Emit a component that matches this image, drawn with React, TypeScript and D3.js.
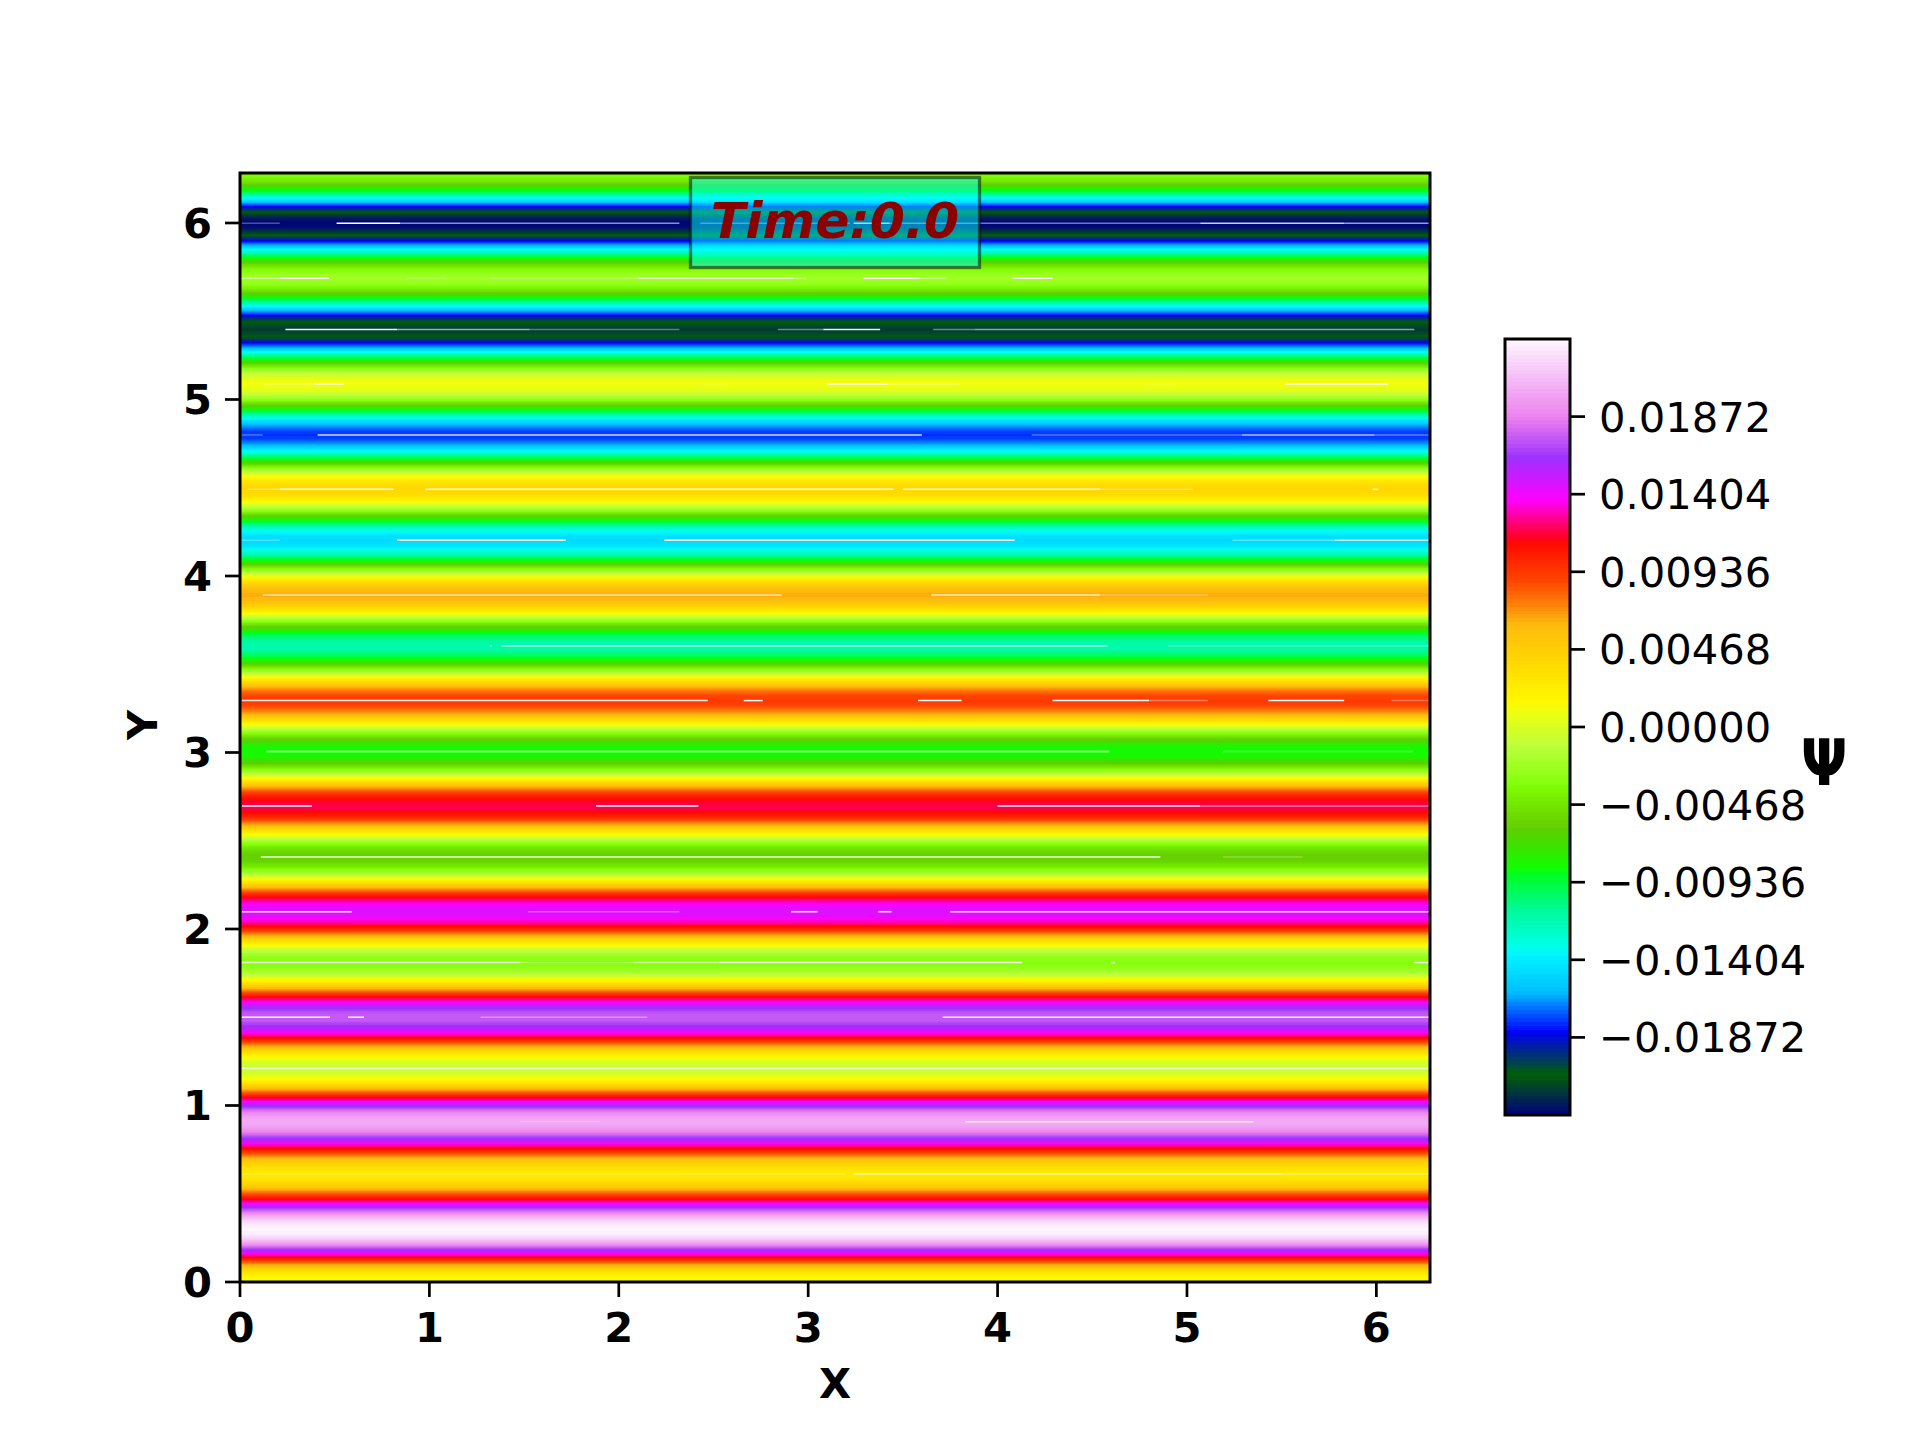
import React from "react";
import * as d3 from "d3";

const WIDTH = 1920;
const HEIGHT = 1440;
const TAU = 2 * Math.PI;

// Y positions of the alternating ridges and troughs of psi
const ridgeY = [0, 0.295, 0.612, 0.908, 1.21, 1.5, 1.81, 2.098, 2.408, 2.697, 3.005, 3.294, 3.605, 3.892, 4.202, 4.491, 4.799, 5.088, 5.397, 5.687, 5.998, TAU];
const ridgePsi = [0.0012, 0.0232, 0.0027, 0.0203, -0.0006, 0.0175, -0.0033, 0.0146, -0.006, 0.0119, -0.0084, 0.0092, -0.0115, 0.0064, -0.0148, 0.004, -0.0178, 0.001, -0.0218, -0.0023, -0.0233, -0.0035];

const psiMin = -0.0234;
const psiMax = 0.0234;
const levelCount = 200;

const xTicks = [0, 1, 2, 3, 4, 5, 6];
const yTicks = [0, 1, 2, 3, 4, 5, 6];
const barTicks = [-0.01872, -0.01404, -0.00936, -0.00468, 0, 0.00468, 0.00936, 0.01404, 0.01872];
const barTickLabels = ["\u22120.01872", "\u22120.01404", "\u22120.00936", "\u22120.00468", "0.00000", "0.00468", "0.00936", "0.01404", "0.01872"];

// gist_ncar colour stops
const redStops: [number, number][] = [[0, 0], [0.3098, 0], [0.3725, 0.3993], [0.4235, 0.5003], [0.5333, 1], [0.7922, 1], [0.8471, 0.6218], [0.898, 0.9235], [1, 0.9961]];
const greenStops: [number, number][] = [[0, 0], [0.051, 0.3722], [0.1059, 0], [0.1569, 0.7202], [0.1608, 0.7537], [0.1647, 0.7752], [0.2157, 1], [0.2588, 0.9804], [0.2706, 0.9804], [0.3176, 1], [0.3686, 0.8081], [0.4275, 1], [0.5216, 1], [0.6314, 0.7292], [0.6863, 0.2796], [0.7451, 0], [0.7922, 0], [0.8431, 0.1753], [0.898, 0.5], [1, 0.9725]];
const blueStops: [number, number][] = [[0, 0.502], [0.051, 0.0222], [0.1098, 1], [0.2039, 1], [0.2627, 0.6145], [0.3216, 0], [0.4157, 0], [0.4745, 0.2342], [0.5333, 0], [0.5804, 0], [0.6314, 0.0549], [0.6902, 0], [0.7373, 0], [0.7922, 1], [0.8431, 1], [0.898, 0.9341], [1, 0.9961]];

// White slivers where the filled contours leave a gap on a ridge: [x0, x1, strength], one list per ridge (index into ridgeY)
const sliverLists: [number, [number, number, number][]][] = [
  [2, [[0.01, 2.3, 0.2], [2.3, 3.2, 0.25], [3.24, 5.5, 0.65], [5.5, 6.28, 0.4]]],
  [3, [[1.48, 1.9, 0.15], [3.83, 5.35, 0.8]]],
  [4, [[0.01, 6.28, 0.75]]],
  [5, [[0.01, 0.475, 1], [0.57, 0.655, 1], [1.27, 2.15, 0.35], [3.71, 6.28, 0.9]]],
  [6, [[0.01, 1.48, 0.85], [1.48, 2.08, 0.3], [2.08, 2.53, 0.6], [2.53, 4.13, 0.9], [4.6, 4.62, 0.7], [6.2, 6.28, 0.9]]],
  [7, [[0.01, 0.59, 1], [1.52, 2.32, 0.3], [2.91, 3.05, 1], [3.37, 3.44, 1], [3.75, 6.28, 0.95]]],
  [8, [[0.11, 4.86, 0.85], [5.19, 5.61, 0.25]]],
  [9, [[0.01, 0.38, 1], [1.88, 2.42, 1], [4.0, 5.07, 0.95], [5.07, 6.28, 0.5]]],
  [10, [[0.14, 4.59, 0.9], [5.19, 6.19, 0.35]]],
  [11, [[0.01, 2.47, 0.9], [2.66, 2.76, 1], [3.58, 3.81, 1], [4.29, 4.8, 1], [4.8, 5.11, 0.35], [5.43, 5.83, 1], [6.08, 6.28, 0.3]]],
  [12, [[1.32, 1.33, 1], [1.38, 4.58, 0.9], [4.9, 6.28, 0.4]]],
  [13, [[0.12, 2.86, 0.65], [3.65, 4.54, 0.75], [4.54, 5.11, 0.3]]],
  [14, [[0.01, 0.21, 0.3], [0.83, 1.72, 1], [2.24, 4.09, 1], [5.24, 5.78, 0.35], [5.78, 6.28, 0.8]]],
  [15, [[0.04, 0.21, 0.4], [0.21, 0.81, 1], [0.98, 3.45, 0.95], [3.5, 4.54, 0.9], [4.54, 5.03, 0.35], [5.98, 6.01, 0.9]]],
  [16, [[0.01, 0.12, 0.35], [0.41, 3.6, 0.85], [4.18, 5.29, 0.35], [5.29, 5.99, 0.7], [5.99, 6.28, 0.4]]],
  [17, [[0.12, 0.39, 0.3], [0.39, 0.55, 1], [2.43, 2.59, 0.15], [3.1, 3.42, 1], [3.42, 3.8, 0.35], [4.79, 4.94, 0.15], [5.52, 6.06, 1]]],
  [18, [[0.24, 0.83, 1], [0.83, 1.53, 0.6], [1.53, 2.32, 0.35], [2.84, 3.08, 0.4], [3.08, 3.38, 0.9], [3.66, 3.88, 0.4], [3.88, 6.2, 0.55]]],
  [19, [[0.01, 0.21, 0.5], [0.21, 0.47, 1], [0.88, 1.09, 0.2], [1.32, 2.1, 0.25], [2.1, 2.92, 0.8], [2.92, 2.99, 0.3], [3.29, 3.59, 1], [3.59, 3.73, 0.4], [4.08, 4.29, 1]]],
  [20, [[0.01, 0.21, 0.3], [0.51, 0.845, 1], [0.845, 2.32, 0.55], [2.43, 3.22, 0.4], [3.24, 3.43, 0.9], [3.43, 5.07, 0.45], [5.07, 5.83, 0.8], [5.83, 6.28, 0.6]]],
];

const channel = (stops: [number, number][]) =>
  d3.scaleLinear().domain(stops.map((s) => s[0])).range(stops.map((s) => s[1]));
const redScale = channel(redStops);
const greenScale = channel(greenStops);
const blueScale = channel(blueStops);

const levelColor = d3
  .scaleQuantize<string>()
  .domain([psiMin, psiMax])
  .range(
    d3.range(levelCount).map((i) => {
      const t = (i + 0.5) / levelCount;
      return d3.rgb(redScale(t) * 255, greenScale(t) * 255, blueScale(t) * 255).formatHex();
    })
  );

const ridgeBisect = d3.bisector((d: number) => d).right;
function psiAt(y: number): number {
  const i = Math.min(ridgeY.length - 2, Math.max(0, ridgeBisect(ridgeY, y) - 1));
  const t = (y - ridgeY[i]) / (ridgeY[i + 1] - ridgeY[i]);
  return ridgePsi[i] + (ridgePsi[i + 1] - ridgePsi[i]) * d3.easeSinInOut(Math.max(0, Math.min(1, t)));
}

const FONT = "'DejaVu Sans', sans-serif";
const LABEL_SIZE = 41.67;

export default function App() {
  const x = d3.scaleLinear().domain([0, TAU]).range([240, 1430]);
  const y = d3.scaleLinear().domain([0, TAU]).range([1282, 173]);
  const bar = d3.scaleLinear().domain([psiMin, psiMax]).range([1115, 339]);
  const fieldRows = d3.range(Math.round(y(TAU)), Math.round(y(0)));
  const barRows = d3.range(Math.round(bar(psiMax)), Math.round(bar(psiMin)));
  const tickW = 2.7;
  const tickL = 15;

  return (
    <svg width={WIDTH} height={HEIGHT} viewBox={`0 0 ${WIDTH} ${HEIGHT}`} style={{ position: "absolute", left: 0, top: 0, background: "#fff" }}>
      <g shapeRendering="crispEdges">
        {fieldRows.map((r) => (
          <rect key={r} x={x(0)} y={r} width={x(TAU) - x(0)} height={1} fill={levelColor(psiAt(y.invert(r + 0.5)))} />
        ))}
      </g>
      <g stroke="#fff" strokeWidth={1.5}>
        {sliverLists.flatMap(([idx, segs]) =>
          segs.map((s, j) => (
            <line key={`${idx}-${j}`} x1={x(s[0])} x2={x(s[1])} y1={y(ridgeY[idx])} y2={y(ridgeY[idx])} strokeOpacity={s[2]} />
          ))
        )}
      </g>
      <rect x={x(0)} y={y(TAU)} width={x(TAU) - x(0)} height={y(0) - y(TAU)} fill="none" stroke="#000" strokeWidth={3} />
      {xTicks.map((t) => (
        <g key={t}>
          <line x1={x(t)} x2={x(t)} y1={y(0)} y2={y(0) + tickL} stroke="#000" strokeWidth={tickW} />
          <text x={x(t)} y={1342} textAnchor="middle" fontFamily={FONT} fontWeight="bold" fontSize={LABEL_SIZE}>{t}</text>
        </g>
      ))}
      {yTicks.map((t) => (
        <g key={t}>
          <line x1={x(0) - tickL} x2={x(0)} y1={y(t)} y2={y(t)} stroke="#000" strokeWidth={tickW} />
          <text x={212} y={y(t) + 15} textAnchor="end" fontFamily={FONT} fontWeight="bold" fontSize={LABEL_SIZE}>{t}</text>
        </g>
      ))}
      <text x={835} y={1398} textAnchor="middle" fontFamily={FONT} fontWeight="bold" fontSize={LABEL_SIZE}>X</text>
      <text transform="translate(157,725) rotate(-90)" textAnchor="middle" fontFamily={FONT} fontWeight="bold" fontSize={LABEL_SIZE}>Y</text>

      <rect x={690.5} y={177.5} width={289} height={90} fill="#00ffff" fillOpacity={0.5} stroke="#000" strokeOpacity={0.5} strokeWidth={3.3} />
      <text x={835} y={238} textAnchor="middle" fontFamily={FONT} fontWeight="bold" fontStyle="italic" fontSize={50.5} fill="#8b0000">Time:0.0</text>

      <g shapeRendering="crispEdges">
        {barRows.map((r) => (
          <rect key={r} x={1505} y={r} width={65} height={1} fill={levelColor(bar.invert(r + 0.5))} />
        ))}
      </g>
      <rect x={1505} y={bar(psiMax)} width={65} height={bar(psiMin) - bar(psiMax)} fill="none" stroke="#000" strokeWidth={3} />
      {barTicks.map((t, i) => (
        <g key={t}>
          <line x1={1570} x2={1570 + tickL} y1={bar(t)} y2={bar(t)} stroke="#000" strokeWidth={tickW} />
          <text x={1599} y={bar(t) + 15} fontFamily={FONT} fontSize={LABEL_SIZE}>{barTickLabels[i]}</text>
        </g>
      ))}
      <text transform="translate(1824,785) scale(0.86,1)" textAnchor="middle" fontFamily={FONT} fontWeight="bold" fontSize={64}>Ψ</text>
    </svg>
  );
}
